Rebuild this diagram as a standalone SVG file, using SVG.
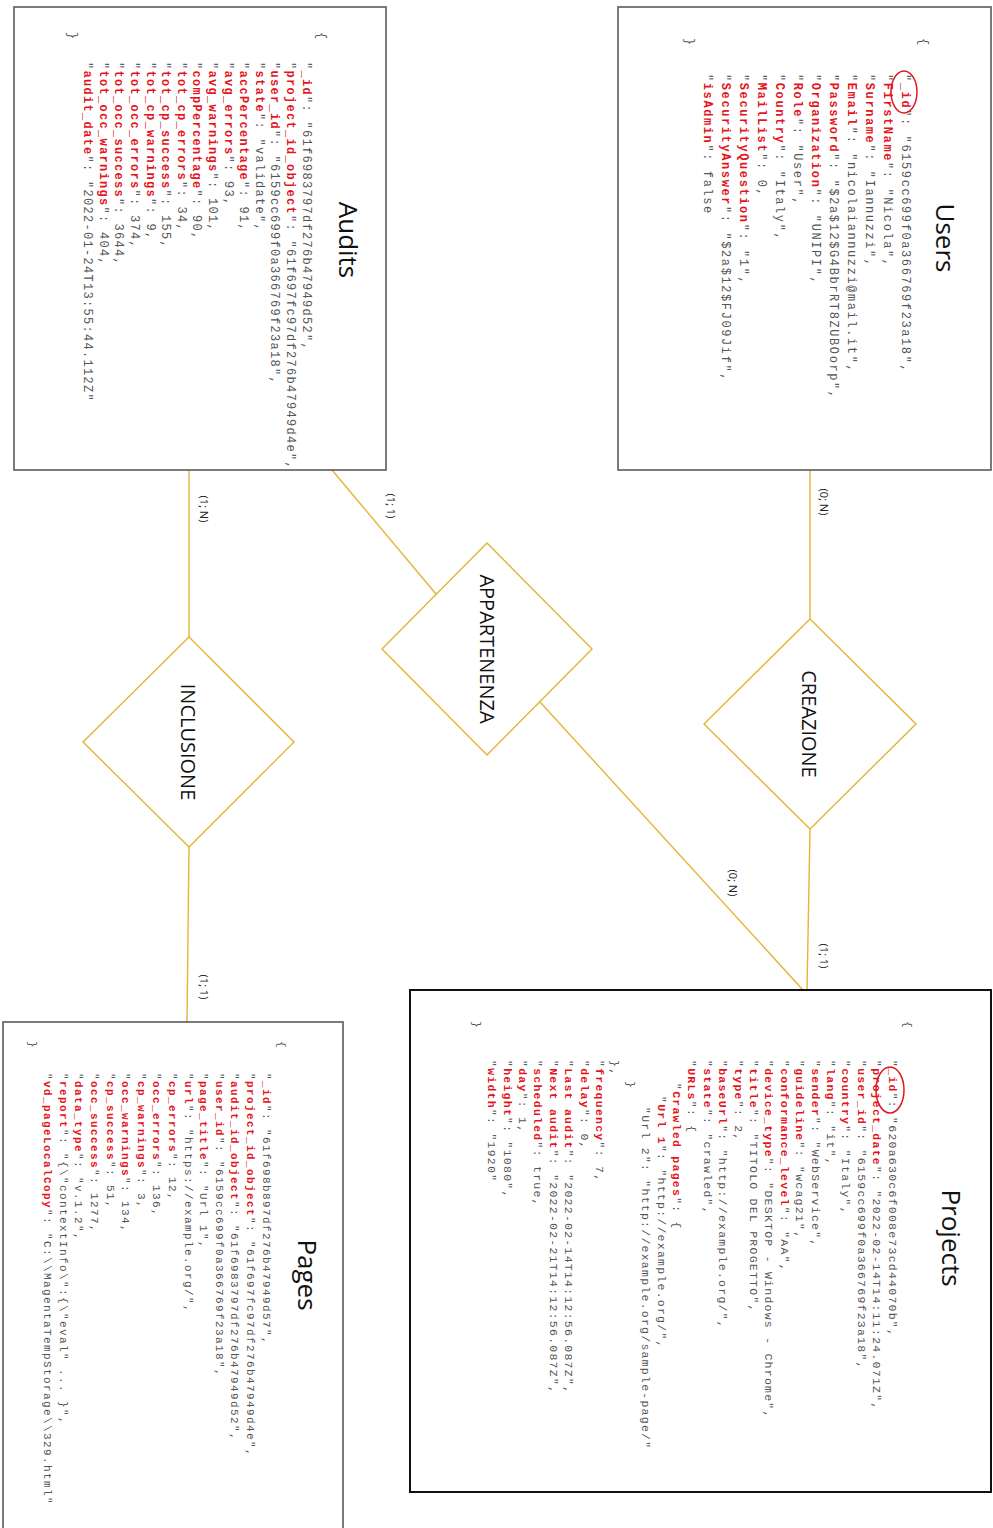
<svg xmlns="http://www.w3.org/2000/svg" width="993" height="1528" viewBox="0 0 993 1528">
  <style>
    .box { fill: #ffffff; stroke: #5a5a5a; stroke-width: 1.6; }
    .box-dark { fill: #ffffff; stroke: #111111; stroke-width: 2; }
    .rel { fill: #ffffff; stroke: #e3b436; stroke-width: 1.4; }
    .link { fill: none; stroke: #e3b436; stroke-width: 1.4; }
    .title { font-family: "Open Sans", "Noto Sans", sans-serif; font-size: 26px; fill: #111111; text-anchor: middle; }
    .rlabel { font-family: "Open Sans", "Noto Sans", sans-serif; font-size: 20px; fill: #111111; text-anchor: middle; }
    .card { font-family: "Open Sans", "Noto Sans", sans-serif; font-size: 11px; fill: #222222; text-anchor: middle; }
    .code { font-family: "Liberation Mono", "Courier New", monospace; fill: #555555; white-space: pre; }
    .u { font-size: 12px; letter-spacing: 1.6px; }
    .a { font-size: 12px; letter-spacing: 1.3px; }
    .p { font-size: 11.5px; letter-spacing: 1.25px; }
    .g { font-size: 11px; letter-spacing: 1.4px; }
    .k { fill: #e3151c; font-weight: bold; }
    .mark { fill: none; stroke: #e3151c; stroke-width: 1.5; }
  </style>

  <!-- relationship lines -->
  <g id="connectors">
    <path class="link" d="M810 470 V619"/>
    <path class="link" d="M810 829 L807 990"/>
    <path class="link" d="M332 470 L436 594"/>
    <path class="link" d="M540 702 L803 990"/>
    <path class="link" d="M189 470 V637"/>
    <path class="link" d="M189 847 L187 1022"/>
    <text class="card" transform="translate(820,502) rotate(90)">(0; N)</text>
    <text class="card" transform="translate(820,956) rotate(90)">(1; 1)</text>
    <text class="card" transform="translate(387,506) rotate(90)">(1; 1)</text>
    <text class="card" transform="translate(729,883) rotate(90)">(0; N)</text>
    <text class="card" transform="translate(200,509) rotate(90)">(1; N)</text>
    <text class="card" transform="translate(200,987) rotate(90)">(1; 1)</text>
  </g>

  <!-- relationships -->
  <g id="creazione">
    <polygon class="rel" points="810,619 916,724 810,829 704,724"/>
    <text class="rlabel" transform="translate(802,724) rotate(90)">CREAZIONE</text>
  </g>
  <g id="appartenenza">
    <polygon class="rel" points="487,543 592,649 487,755 382,649"/>
    <text class="rlabel" transform="translate(480,649) rotate(90)">APPARTENENZA</text>
  </g>
  <g id="inclusione">
    <polygon class="rel" points="189,637 294,742 189,847 83,742"/>
    <text class="rlabel" transform="translate(181,742) rotate(90)">INCLUSIONE</text>
  </g>

  <!-- Users collection -->
  <g id="users">
    <rect class="box" x="618" y="7" width="373" height="463"/>
    <text class="title" transform="translate(936,238) rotate(90)">Users</text>
    <g class="code u" transform="translate(902,74) rotate(90)">
      <text x="-36" y="-18">{</text>
      <text x="0" y="0">"<tspan class="k">_id</tspan>": "6159cc699f0a366769f23a18",</text>
      <text x="0" y="18">"<tspan class="k">FirstName</tspan>": "Nicola",</text>
      <text x="0" y="36">"<tspan class="k">Surname</tspan>": "Iannuzzi",</text>
      <text x="0" y="54">"<tspan class="k">Email</tspan>": "nicolaiannuzzi@mail.it",</text>
      <text x="0" y="72">"<tspan class="k">Password</tspan>": "$2a$12$G4BbrRT8ZUBOorp",</text>
      <text x="0" y="90">"<tspan class="k">Organization</tspan>": "UNIPI",</text>
      <text x="0" y="108">"<tspan class="k">Role</tspan>": "User",</text>
      <text x="0" y="126">"<tspan class="k">Country</tspan>": "Italy",</text>
      <text x="0" y="144">"<tspan class="k">MailList</tspan>": 0,</text>
      <text x="0" y="162">"<tspan class="k">SecurityQuestion</tspan>": "1",</text>
      <text x="0" y="180">"<tspan class="k">SecurityAnswer</tspan>": "$2a$12$FJ09Jif",</text>
      <text x="0" y="198">"<tspan class="k">isAdmin</tspan>": false</text>
      <text x="-36" y="216">}</text>
    </g>
    <ellipse class="mark" cx="904" cy="92" rx="13" ry="21"/>
  </g>

  <!-- Audits collection -->
  <g id="audits">
    <rect class="box" x="14" y="7" width="372" height="463"/>
    <text class="title" transform="translate(339,240) rotate(90)">Audits</text>
    <g class="code a" transform="translate(302.5,62) rotate(90)">
      <text x="-30" y="-15.6">{</text>
      <text x="0" y="0">"<tspan class="k">_id</tspan>": "61f6983797df276b47949d52",</text>
      <text x="0" y="15.6">"<tspan class="k">project_id_object</tspan>": "61f697fc97df276b47949d4e",</text>
      <text x="0" y="31.2">"<tspan class="k">user_id</tspan>": "6159cc699f0a366769f23a18",</text>
      <text x="0" y="46.8">"<tspan class="k">state</tspan>": "validate",</text>
      <text x="0" y="62.4">"<tspan class="k">accPercentage</tspan>": 91,</text>
      <text x="0" y="78">"<tspan class="k">avg_errors</tspan>": 93,</text>
      <text x="0" y="93.6">"<tspan class="k">avg_warnings</tspan>": 101,</text>
      <text x="0" y="109.2">"<tspan class="k">compPercentage</tspan>": 90,</text>
      <text x="0" y="124.8">"<tspan class="k">tot_cp_errors</tspan>": 34,</text>
      <text x="0" y="140.4">"<tspan class="k">tot_cp_success</tspan>": 155,</text>
      <text x="0" y="156">"<tspan class="k">tot_cp_warnings</tspan>": 9,</text>
      <text x="0" y="171.6">"<tspan class="k">tot_occ_errors</tspan>": 374,</text>
      <text x="0" y="187.2">"<tspan class="k">tot_occ_success</tspan>": 3644,</text>
      <text x="0" y="202.8">"<tspan class="k">tot_occ_warnings</tspan>": 404,</text>
      <text x="0" y="218.4">"<tspan class="k">audit_date</tspan>": "2022-01-24T13:55:44.112Z"</text>
      <text x="-30" y="234">}</text>
    </g>
  </g>

  <!-- Projects collection -->
  <g id="projects">
    <rect class="box-dark" x="410" y="990" width="581" height="502"/>
    <text class="title" transform="translate(942,1238) rotate(90)">Projects</text>
    <g class="code p" transform="translate(888.5,1060) rotate(90)">
      <text x="-39" y="-15.4">{</text>
      <text x="0" y="0">"<tspan class="k">_id</tspan>": "620a630c6f008e73cd44070b",</text>
      <text x="0" y="15.4">"<tspan class="k">project_date</tspan>": "2022-02-14T14:11:24.071Z",</text>
      <text x="0" y="30.8">"<tspan class="k">user_id</tspan>": "6159cc699f0a366769f23a18",</text>
      <text x="0" y="46.2">"<tspan class="k">country</tspan>": "Italy",</text>
      <text x="0" y="61.6">"<tspan class="k">lang</tspan>": "it",</text>
      <text x="0" y="77">"<tspan class="k">sender</tspan>": "WebService",</text>
      <text x="0" y="92.4">"<tspan class="k">guideline</tspan>": "wcag21",</text>
      <text x="0" y="107.8">"<tspan class="k">conformance_level</tspan>": "AA",</text>
      <text x="0" y="123.2">"<tspan class="k">device_type</tspan>": "DESKTOP - Windows - Chrome",</text>
      <text x="0" y="138.6">"<tspan class="k">title</tspan>": "TITOLO DEL PROGETTO",</text>
      <text x="0" y="154">"<tspan class="k">type</tspan>": 2,</text>
      <text x="0" y="169.4">"<tspan class="k">baseUrl</tspan>": "http://example.org/",</text>
      <text x="0" y="184.8">"<tspan class="k">state</tspan>": "crawled",</text>
      <text x="0" y="200.2">"<tspan class="k">URLs</tspan>": {</text>
      <text x="23" y="215.6">"<tspan class="k">Crawled pages</tspan>": {</text>
      <text x="36" y="231">"<tspan class="k">Url 1</tspan>": "http://example.org/",</text>
      <text x="47" y="246.4">"Url 2": "http://example.org/sample-page/"</text>
      <text x="21" y="261.8">}</text>
      <text x="0" y="277.2">},</text>
      <text x="0" y="292.6">"<tspan class="k">frequency</tspan>": 7,</text>
      <text x="0" y="308">"<tspan class="k">delay</tspan>": 0,</text>
      <text x="0" y="323.4">"<tspan class="k">Last audit</tspan>": "2022-02-14T14:12:56.087Z",</text>
      <text x="0" y="338.8">"<tspan class="k">Next audit</tspan>": "2022-02-21T14:12:56.087Z",</text>
      <text x="0" y="354.2">"<tspan class="k">scheduled</tspan>": true,</text>
      <text x="0" y="369.6">"<tspan class="k">day</tspan>": 1,</text>
      <text x="0" y="385">"<tspan class="k">height</tspan>": "1080",</text>
      <text x="0" y="400.4">"<tspan class="k">width</tspan>": "1920"</text>
      <text x="-39" y="415.8">}</text>
    </g>
    <ellipse class="mark" cx="890" cy="1090" rx="14" ry="23"/>
  </g>

  <!-- Pages collection -->
  <g id="pages">
    <rect class="box" x="3" y="1022" width="340" height="512"/>
    <text class="title" transform="translate(298,1275) rotate(90)">Pages</text>
    <g class="code g" transform="translate(262.5,1073) rotate(90)">
      <text x="-32" y="-15.6">{</text>
      <text x="0" y="0">"<tspan class="k">_id</tspan>": "61f698b897df276b47949d57",</text>
      <text x="0" y="15.6">"<tspan class="k">project_id_object</tspan>": "61f697fc97df276b47949d4e",</text>
      <text x="0" y="31.2">"<tspan class="k">audit_id_object</tspan>": "61f6983797df276b47949d52",</text>
      <text x="0" y="46.8">"<tspan class="k">user_id</tspan>": "6159cc699f0a366769f23a18",</text>
      <text x="0" y="62.4">"<tspan class="k">page_title</tspan>": "Url 1",</text>
      <text x="0" y="78">"<tspan class="k">url</tspan>": "https://example.org/",</text>
      <text x="0" y="93.6">"<tspan class="k">cp_errors</tspan>": 12,</text>
      <text x="0" y="109.2">"<tspan class="k">occ_errors</tspan>": 136,</text>
      <text x="0" y="124.8">"<tspan class="k">cp_warnings</tspan>": 3,</text>
      <text x="0" y="140.4">"<tspan class="k">occ_warnings</tspan>": 134,</text>
      <text x="0" y="156">"<tspan class="k">cp_success</tspan>": 51,</text>
      <text x="0" y="171.6">"<tspan class="k">occ_success</tspan>": 1277,</text>
      <text x="0" y="187.2">"<tspan class="k">data_type</tspan>": "v.1.2",</text>
      <text x="0" y="202.8">"<tspan class="k">report</tspan>": "{\"contextInfo\":{\"eval" ... }",</text>
      <text x="0" y="218.4">"<tspan class="k">vd_pageLocalCopy</tspan>": "C:\\MagentaTempStorage\\329.html"</text>
      <text x="-32" y="234">}</text>
    </g>
  </g>
</svg>
